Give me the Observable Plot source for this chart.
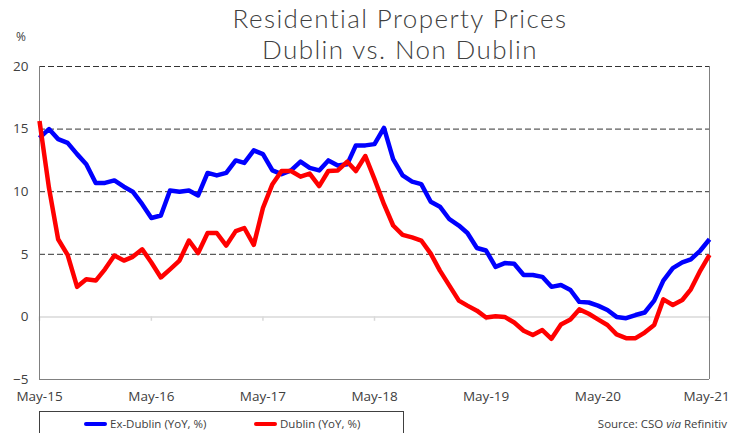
<!DOCTYPE html>
<html>
<head>
<meta charset="utf-8">
<script src="https://cdn.jsdelivr.net/npm/d3@7"></script>
<script src="https://cdn.jsdelivr.net/npm/@observablehq/plot@0.6"></script>
<style>
  html, body { margin: 0; padding: 0; background: #fff; }
  #wrap { position: relative; width: 730px; height: 433px; overflow: hidden; font-family: "Open Sans", Lato, sans-serif; color: #404040; }
  .tl { position: absolute; left: 0; width: 800px; text-align: center; font-family: Lato, "Open Sans", sans-serif; font-weight: 300; font-size: 26px; letter-spacing: 1.4px; line-height: 31px; height: 31px; color: #404040; white-space: nowrap; }
  #t1 { top: 3px; }
  #t2 { top: 34px; }
  #pct { position: absolute; left: 16px; top: 28px; font-size: 12px; color: #404040; }
  #chart { position: absolute; left: 0; top: 56px; }
  #legend { position: absolute; left: 39px; top: 411px; width: 365px; height: 40px; border: 1px solid #404040; box-sizing: border-box; }
  .item { position: absolute; top: 4px; font-size: 11.5px; color: #404040; white-space: nowrap; }
  .sw { display: inline-block; width: 23px; height: 4px; border-radius: 2px; vertical-align: middle; margin-right: 3px; position: relative; top: -1px; }
  #source { position: absolute; right: 3px; top: 416px; font-size: 11.5px; color: #404040; }
</style>
</head>
<body>
<div id="wrap">
  <div class="tl" id="t1">Residential Property Prices</div>
  <div class="tl" id="t2">Dublin vs. Non Dublin</div>
  <div id="pct">%</div>
  <div id="chart"></div>
  <div id="legend"></div>
  <div id="source">Source: CSO <i>via</i> Refinitiv</div>
</div>
<script>
// Monthly YoY % change, May-2015 .. May-2021
const startMonth = "2015-05";
const exDublin = [14.3, 15.0, 14.2, 13.9, 13.0, 12.2, 10.7, 10.7, 10.9, 10.4,
  10.0, 9.0, 7.9, 8.1, 10.1, 10.0, 10.1, 9.7, 11.5, 11.3,
  11.5, 12.5, 12.3, 13.3, 13.0, 11.7, 11.4, 11.7, 12.4, 11.9,
  11.7, 12.5, 12.1, 12.2, 13.7, 13.7, 13.8, 15.1, 12.6, 11.3,
  10.8, 10.6, 9.2, 8.8, 7.8, 7.3, 6.7, 5.5, 5.3, 4.0,
  4.3, 4.25, 3.35, 3.35, 3.2, 2.4, 2.55, 2.15, 1.2, 1.15,
  0.9, 0.55, 0.0, -0.1, 0.15, 0.35, 1.3, 2.9, 3.9, 4.35,
  4.6, 5.3, 6.2];
const dublin = [15.65, 10.3, 6.2, 4.95, 2.4, 3.0, 2.9, 3.8, 4.9, 4.5,
  4.8, 5.4, 4.35, 3.15, 3.8, 4.5, 6.1, 5.1, 6.7, 6.7,
  5.7, 6.85, 7.1, 5.75, 8.7, 10.6, 11.65, 11.65, 11.2, 11.45,
  10.45, 11.65, 11.7, 12.4, 11.65, 12.85, 11.0, 9.0, 7.3, 6.55,
  6.35, 6.1, 5.05, 3.7, 2.5, 1.3, 0.9, 0.5, -0.05, 0.05,
  0.0, -0.45, -1.1, -1.45, -1.05, -1.75, -0.6, -0.2, 0.6, 0.25,
  -0.2, -0.65, -1.4, -1.7, -1.7, -1.25, -0.65, 1.4, 0.95, 1.35,
  2.2, 3.7, 4.95];
const xTickLabels = ["May-15", "May-16", "May-17", "May-18", "May-19", "May-20", "May-21"];
const yTicks = [-5, 0, 5, 10, 15, 20];
const seriesNames = ["Ex-Dublin (YoY, %)", "Dublin (YoY, %)"];
const seriesColors = ["#0000FF", "#FF0000"];

const start = d3.utcParse("%Y-%m")(startMonth);
const monthOf = i => d3.utcMonth.offset(start, i);
const rows = [];
[exDublin, dublin].forEach((arr, s) => arr.forEach((v, i) => rows.push({date: monthOf(i), value: v, series: seriesNames[s]})));
const tickDates = xTickLabels.map((_, k) => d3.utcMonth.offset(start, 12 * k));
const xDomain = [tickDates[0], tickDates[tickDates.length - 1]];
const fmtX = d => xTickLabels[tickDates.findIndex(t => +t === +d)];

const chart = Plot.plot({
  width: 730,
  height: 353,
  marginTop: 10,
  marginBottom: 30,
  marginLeft: 39,
  marginRight: 21,
  style: {fontFamily: "'Open Sans', Lato, sans-serif", fontSize: "13.5px", color: "#404040", background: "transparent"},
  x: {type: "utc", domain: xDomain, label: null},
  y: {domain: [-5, 20], label: null},
  color: {domain: seriesNames, range: seriesColors},
  marks: [
    Plot.axisY(yTicks, {tickSize: 0, tickPadding: 11, label: null}),
    Plot.axisX(tickDates.slice(0, -1), {tickSize: 0, tickPadding: 12, tickFormat: fmtX, label: null}),
    Plot.axisX(tickDates.slice(-1), {tickSize: 0, tickPadding: 12, tickFormat: fmtX, label: null, dx: -3}),
    Plot.ruleY([5, 10, 15, 20], {stroke: "#333", strokeWidth: 1, strokeDasharray: "6,3"}),
    Plot.ruleY([0], {stroke: "#d9d9d9", strokeWidth: 1.5}),
    Plot.ruleX(tickDates, {y1: 0, y2: -0.35, stroke: "#d9d9d9", strokeWidth: 1.5}),
    Plot.ruleY([-5], {stroke: "#808080", strokeWidth: 1}),
    Plot.ruleX(xDomain, {stroke: "#808080", strokeWidth: 1}),
    Plot.line(rows, {x: "date", y: "value", stroke: "series", z: "series", strokeWidth: 4.5, strokeLinejoin: "round", strokeLinecap: "butt"})
  ]
});
document.getElementById("chart").appendChild(chart);

const legend = document.getElementById("legend");
const itemLeft = [44, 214];
seriesNames.forEach((name, i) => {
  const it = document.createElement("div");
  it.className = "item";
  it.style.left = itemLeft[i] + "px";
  it.innerHTML = `<span class="sw" style="background:${seriesColors[i]}"></span>${name}`;
  legend.appendChild(it);
});
</script>
</body>
</html>
